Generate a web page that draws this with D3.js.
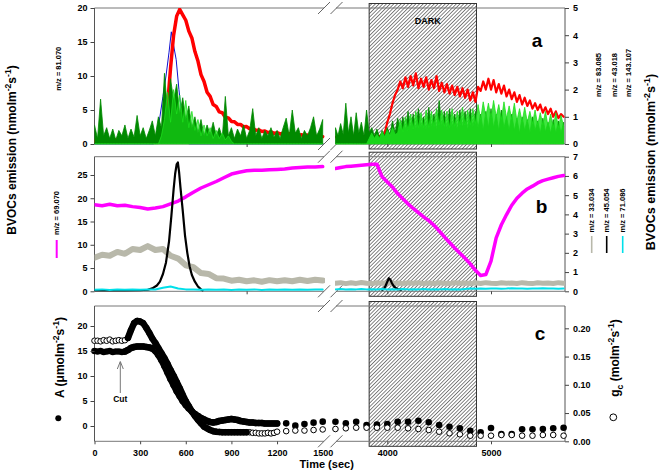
<!DOCTYPE html>
<html>
<head>
<meta charset="utf-8">
<script src="https://cdn.jsdelivr.net/npm/d3@7/dist/d3.min.js"></script>
<style>
html,body{margin:0;padding:0;background:#fff;}
svg{display:block;font-family:Arial,"Liberation Sans",Helvetica,sans-serif;}
</style>
</head>
<body>
<svg id="chart" width="661" height="473"></svg>
<script>
// ---------------- time grids (sampling instants, seconds) ----------------
const tA_left  = d3.range(0, 1501, 20);
const tA_right = d3.range(3500, 5701, 25);
const tB_left  = d3.range(0, 1501, 50);
const tB_right = d3.range(3500, 5701, 50);
const tC_left  = d3.range(0, 1201, 20).concat([1260, 1320, 1380, 1440, 1500]);
const tC_right = d3.range(3500, 5701, 100);
const darkPeriod = [3825, 4860];

// ---------------- tick labels ----------------
const xTicksLeft  = [0, 300, 600, 900, 1200, 1500];
const xTicksRight = [4000, 5000];
const xMinorLeft  = [1000];
const yTicksA_left  = [0, 5, 10, 15, 20];
const yTicksA_right = [0, 1, 2, 3, 4, 5];
const yTicksB_left  = [0, 5, 10, 15, 20, 25];
const yTicksB_right = [0, 1, 2, 3, 4, 5, 6, 7];
const yTicksC_left  = [0, 5, 10, 15, 20];
const yTicksC_right = [0, 0.05, 0.10, 0.15, 0.20];

// ---------------- panel a ----------------
// m/z 81.070 (blue, left axis)
const blueT = [0, 390, 410, 430, 450, 470, 490, 505, 520, 537, 555, 570, 585, 603, 620, 1500];
const blueV = [0, 0, 1.5, 4, 7, 10, 13.5, 16.5, 14.5, 12.4, 8, 5, 2.5, 0.6, 0, 0];
// m/z 83.085 (red, right axis)
const redLeft = [0.1,0.15,0.1,0.15,0.1,0.15,0.1,0.15,0.1,0.15,0.1,0.15,0.1,0.15,0.1,0.15,0.1,0.15,0.1,0.15,0.1,0.15,0.1,
  0.3,1.4,2.8,4.0,4.7,4.95,4.75,4.55,4.15,3.9,3.4,3.05,2.55,2.3,1.9,1.75,1.45,1.38,1.18,1.15,0.98,0.96,0.83,0.82,0.72,0.72,
  0.63,0.64,0.56,0.58,0.5,0.52,0.46,0.48,0.42,0.45,0.39,0.42,0.37,0.4,0.35,0.38,0.33,0.36,0.31,0.34,0.3,0.33,0.28,0.31,0.27,0.3,0.27];
const redRight = [0.25,0.3,0.2,0.3,0.25,0.3,0.2,0.3,0.25,0.3,0.2,0.3,0.25,
  0.3,0.2,0.3,0.25,0.3,0.3,0.4,0.8,1.1,1.5,1.8,
  2.0,2.3,2.05,2.45,2.1,2.5,2.15,2.6,2.05,2.4,2.1,2.45,2.0,2.35,2.05,2.5,1.95,2.25,1.9,2.2,1.85,2.15,1.8,2.1,1.75,2.05,1.7,2.0,1.6,1.9,1.55,
  2.1,1.95,2.3,2.0,2.4,2.0,2.35,1.9,2.2,1.85,2.15,1.75,2.0,1.65,1.9,1.55,1.8,1.45,1.7,1.4,1.6,1.3,1.5,1.25,1.45,1.15,1.35,1.1,1.3,1.0,1.2,0.95,1.1,1.0];
// m/z 43.018 (dark green, right axis)
const dgreenLeft = [0.7,0.2,1.65,0.3,0.6,0.2,0.55,0.15,0.5,0.3,0.7,0.2,0.55,0.25,1.05,0.3,0.6,0.2,0.5,0.85,0.3,1.0,0.6,
  2.6,1.2,2.4,1.6,2.2,1.1,1.7,0.9,1.4,0.6,1.0,0.4,0.9,0.3,0.7,0.35,0.8,0.3,0.6,0.25,1.75,0.3,0.6,0.2,0.55,0.3,0.7,0.2,
  0.5,1.3,0.3,0.6,0.2,0.5,0.3,0.6,0.25,0.5,0.2,0.6,0.95,0.3,1.25,0.4,0.6,0.2,0.5,0.3,0.6,1.0,0.3,0.55,0.9];
const dgreenRight = [0.6,0.3,0.75,0.35,1.5,0.4,1.0,0.3,1.15,0.4,0.8,0.3,1.25,
  0.4,0.6,0.3,0.55,0.25,0.5,0.3,0.6,0.35,0.85,0.4,
  0.95,0.5,1.0,0.5,1.2,0.6,1.1,0.5,1.3,0.6,1.0,0.5,1.35,0.6,1.1,0.5,1.6,0.6,1.2,0.5,1.3,0.6,1.1,0.5,1.25,0.6,1.2,0.5,1.3,0.6,1.2,
  0.6,1.1,0.5,1.2,0.6,1.3,0.6,1.1,0.5,1.25,0.6,1.0,0.5,1.1,0.5,0.95,0.4,1.0,0.5,0.9,0.4,1.0,0.5,0.85,0.4,0.95,0.45,0.8,0.4,0.9,0.4,0.85,0.4,0.8];
// m/z 143.107 (light green, right axis)
const lgreenLeft = [0,0,0,0,0,0,0,0,0,0,0,0,0,0,0,0,0,0,0,0,0,0,
  0.3,0.9,1.9,0.8,2.0,1.1,1.8,0.8,1.6,0.6,1.2,0.5,0.9,0.3,0.7,0.3,0.6,0.2,0.5,0.2,0.4,0.15,0.3,0.1,
  0,0,0,0,0,0,0,0,0,0,0,0,0,0,0,0,0,0,0,0,0,0,0,0,0,0,0,0,0,0];
const lgreenRight = [0,0,0,0,0,0,0,0,0,0,0,0,0,
  0.2,0.4,0.2,0.35,0.2,0.45,0.25,0.5,0.3,0.6,0.35,
  0.4,0.9,0.45,1.0,0.5,1.1,0.55,1.2,0.6,1.15,0.6,1.25,0.6,1.2,0.65,1.3,0.7,1.25,0.65,1.2,0.6,1.3,0.65,1.2,0.7,1.35,0.7,1.25,0.7,1.3,0.75,
  1.45,0.9,1.55,1.0,1.5,0.95,1.6,1.0,1.45,0.9,1.55,0.95,1.4,0.9,1.5,0.85,1.3,0.8,1.35,0.8,1.2,0.75,1.25,0.7,1.15,0.7,1.2,0.65,1.1,0.6,1.15,0.6,1.05,0.65];

// ---------------- panel b ----------------
// m/z 69.070 (magenta, left axis)
const magLeft = [18.6,18.4,18.7,18.4,18.5, 18.2,18.0,17.7,17.9,18.2, 18.8,19.4,20.3,21.3,22.2, 22.9,23.6,24.4,25.2,25.6,
  25.9,26.0,26.0,26.1,26.2, 26.3,26.5,26.6,26.7,26.7, 26.8];
const magRight = [26.4,26.6,26.8,26.9,27.0,27.1,27.2,27.3,27.3,24.6,23.5,22.4,21.0,19.9,18.8,17.8,16.9,16.0,15.2,14.2,
  13.0,11.7,10.5,9.3,8.2,7.1,5.9,4.5,3.4,3.6,6.5,11.5,14.3,16.5,18.5,20.0,21.1,22.0,22.6,23.3,23.8,24.1,24.4,24.7,24.9];
// m/z 33.034 (grey, right axis)
const greyLeft = [1.75,1.9,1.85,2.05,1.95, 2.2,2.15,2.35,2.15,2.2, 1.85,1.7,1.35,1.25,0.95, 0.9,0.68,0.66,0.55,0.6,
  0.52,0.57,0.5,0.58,0.52, 0.57,0.52,0.6,0.54,0.6, 0.56];
const greyRight = [0.42,0.45,0.40,0.44,0.41, 0.46,0.42,0.40,0.44,0.42, 0.45,0.41,0.43,0.40,0.44, 0.42,0.45,0.40,0.43,0.41,
  0.44,0.42,0.40,0.45,0.42, 0.43,0.40,0.44,0.41,0.45, 0.42,0.40,0.44,0.42,0.43, 0.41,0.45,0.42,0.40,0.44, 0.42,0.43,0.41,0.45,0.42];
// m/z 45.054 (black, right axis)
const blackLeftT = [0,100,200,300,350,380,410,430,450,470,490,505,520,530,540,548,556,565,580,595,610,625,640,660,680,700,710];
const blackLeftV = [0.05,0.06,0.05,0.06,0.08,0.15,0.3,0.5,0.9,1.5,2.6,3.9,5.3,6.1,6.6,6.7,6.2,5.4,4.2,2.9,2.0,1.3,0.85,0.5,0.25,0.1,0.05];
const blackRightT = [3950,3970,3985,4000,4015,4030,4045,4060,4080,4100,4130];
const blackRightV = [0.08,0.15,0.3,0.5,0.68,0.6,0.42,0.28,0.18,0.12,0.08];
// m/z 71.086 (cyan, right axis)
const cyanLeft = [0.08,0.1,0.07,0.09,0.08, 0.1,0.08,0.1,0.09,0.18, 0.25,0.15,0.1,0.09,0.08, 0.1,0.08,0.09,0.07,0.09,
  0.08,0.1,0.07,0.09,0.08, 0.1,0.08,0.09,0.08,0.1, 0.09];
const cyanRight = [0.1,0.12,0.09,0.11,0.1, 0.12,0.1,0.11,0.09,0.12, 0.1,0.11,0.09,0.12,0.1, 0.11,0.1,0.12,0.09,0.11,
  0.1,0.12,0.1,0.11,0.09, 0.12,0.14,0.13,0.15,0.13, 0.14,0.15,0.13,0.14,0.16, 0.14,0.15,0.13,0.15,0.14, 0.16,0.14,0.15,0.13,0.15];

// ---------------- panel c ----------------
// A, net assimilation (filled, left axis)
const aLeft = [15.0,14.9,15.0,14.8,14.9,15.0,14.8,14.9,14.9,14.8,14.9,
  15.2,15.6,15.8,15.9,15.9,15.9,15.8,15.7,15.5,15.0,
  14.2,13.2,12.0,10.7,9.4,8.2,7.0,6.0,5.0,4.2,
  3.5,2.9,2.4,2.0,1.6,1.3,1.0,0.8,0.7,0.8,
  1.0,1.1,1.2,1.3,1.4,1.3,1.2,1.0,0.9,0.8,
  0.7,0.7,0.6,0.6,0.6,0.5,0.5,0.5,0.5,0.5,
  0.53,0.07,0.4,0.67,0.87];
const aRight = [0.86,0.54,0.86,0.2,0.3,0.4,0.86,0.86,1.06,0.74,0.2,-0.14,-0.46,-0.94,-1.26,-0.4,-1.6,-1.6,-0.66,-0.66,-0.6,-0.46,-0.34];
// gc, stomatal conductance (open, right axis)
const gcLeft = [0.178,0.178,0.177,0.179,0.178,0.180,0.177,0.178,0.179,0.178,0.179,
  0.183,0.197,0.209,0.213,0.212,0.209,0.201,0.192,0.182,0.174,
  0.165,0.156,0.147,0.137,0.126,0.116,0.105,0.094,0.082,0.071,
  0.062,0.053,0.045,0.038,0.032,0.026,0.023,0.020,0.018,0.017,
  0.0165,0.016,0.016,0.016,0.016,0.016,0.016,0.016,0.016,0.016,
  0.016,0.015,0.015,0.014,0.014,0.014,0.015,0.014,0.015,0.017,
  0.018,0.019,0.019,0.020,0.021];
const gcRight = [0.0218,0.0230,0.0241,0.0241,0.0241,0.0241,0.0241,0.0230,0.0218,0.0200,0.0170,0.0142,0.0124,0.0099,0.0099,
  0.0099,0.0112,0.0112,0.0099,0.0099,0.0112,0.0112,0.0099];

// ================= drawing =================
const svg = d3.select('#chart');
const defs = svg.append('defs');
const HS = 2.6;
const pat = defs.append('pattern').attr('id', 'hatch').attr('patternUnits', 'userSpaceOnUse')
  .attr('width', HS).attr('height', HS).attr('patternTransform', 'rotate(45)');
pat.append('rect').attr('width', HS).attr('height', HS).attr('fill', '#fff');
pat.append('line').attr('x1', 0).attr('y1', 0).attr('x2', 0).attr('y2', HS).attr('stroke', '#222').attr('stroke-width', 1.1);

const xL = d3.scaleLinear().domain([0, 1500]).range([94.5, 322.7]);
const xR = d3.scaleLinear().domain([4000, 5000]).range([387.3, 491]);
const AX_L = 94.5, AX_R = 565, SEG_L_END = 324, SEG_R_START = 336;

const P = [{top: 8, bottom: 144}, {top: 156.7, bottom: 291.3}, {top: 306, bottom: 441.3}];
const yAL = d3.scaleLinear([0, 20], [P[0].bottom, P[0].top]);
const yAR = d3.scaleLinear([0, 5], [P[0].bottom, P[0].top]);
const yBL = d3.scaleLinear([0, 28.93], [P[1].bottom, P[1].top]);
const yBR = d3.scaleLinear([0, 7], [P[1].bottom, P[1].top]);
const yCL = d3.scaleLinear([-3.06, 24], [P[2].bottom, P[2].top]);
const yCR = d3.scaleLinear([0, 0.2395], [P[2].bottom, P[2].top]);

// clip paths
P.forEach((p, i) => {
  defs.append('clipPath').attr('id', 'cl' + i).append('rect')
    .attr('x', AX_L).attr('y', p.top).attr('width', 325 - AX_L).attr('height', p.bottom - p.top + 0.5);
  defs.append('clipPath').attr('id', 'cr' + i).append('rect')
    .attr('x', 335).attr('y', p.top).attr('width', AX_R - 335).attr('height', p.bottom - p.top + 0.5);
});

// dark boxes (under the data)
P.forEach(p => {
  svg.append('rect').attr('x', xR(darkPeriod[0])).attr('y', p.top - 4.5)
    .attr('width', xR(darkPeriod[1]) - xR(darkPeriod[0])).attr('height', p.bottom - p.top + 9.5)
    .attr('fill', 'url(#hatch)').attr('stroke', '#333').attr('stroke-width', 1);
});

const FRAME = '#777';
function hline(x1, x2, y) {
  svg.append('line').attr('x1', x1).attr('x2', x2).attr('y1', y).attr('y2', y).attr('stroke', FRAME).attr('stroke-width', 1);
}
P.forEach(p => {
  hline(AX_L, SEG_L_END, p.top); hline(SEG_R_START, AX_R, p.top);
  hline(AX_L, SEG_L_END, p.bottom); hline(SEG_R_START, AX_R, p.bottom);
  svg.append('line').attr('x1', AX_L).attr('x2', AX_L).attr('y1', p.top).attr('y2', p.bottom).attr('stroke', '#555');
  svg.append('line').attr('x1', AX_R).attr('x2', AX_R).attr('y1', p.top).attr('y2', p.bottom).attr('stroke', '#555');
  // break marks
  [324, 336.5].forEach(cx => [p.top, p.bottom].forEach(cy => {
    svg.append('line').attr('x1', cx - 6).attr('y1', cy + 6).attr('x2', cx + 6).attr('y2', cy - 6)
      .attr('stroke', '#666').attr('stroke-width', 1);
  }));
});

function line(xs, ts, vs, y, color, w, clip) {
  svg.append('path').datum(d3.zip(ts, vs)).attr('clip-path', `url(#${clip})`)
    .attr('d', d3.line().x(d => xs(d[0])).y(d => y(d[1])))
    .attr('fill', 'none').attr('stroke', color).attr('stroke-width', w)
    .attr('stroke-linejoin', 'round').attr('stroke-linecap', 'round');
}
function spikes(xs, ts, vs, y, color, clip, fillOp) {
  svg.append('path').datum(d3.zip(ts, vs)).attr('clip-path', `url(#${clip})`)
    .attr('d', d3.area().x(d => xs(d[0])).y0(y(0)).y1(d => y(d[1])))
    .attr('fill', color).attr('fill-opacity', fillOp).attr('stroke', color).attr('stroke-width', 0.8);
}

// panel a
const RED = '#ff0000', BLUE = '#1010d0', DG = '#008a00', LG = '#1ee01e';
line(xL, blueT, blueV, yAL, BLUE, 1, 'cl0');
line(xL, tA_left, redLeft, yAR, RED, 3.5, 'cl0');
line(xR, tA_right, redRight, yAR, RED, 2.2, 'cr0');
spikes(xL, tA_left, dgreenLeft, yAR, DG, 'cl0', 1);
spikes(xR, tA_right, dgreenRight, yAR, DG, 'cr0', 1);
spikes(xL, tA_left, lgreenLeft, yAR, LG, 'cl0', 0.55);
spikes(xR, tA_right, lgreenRight, yAR, LG, 'cr0', 0.85);

// panel b
const MAG = '#ff00ff', GREY = '#b8b8aa', CYAN = '#00e0ea';
line(xL, tB_left, greyLeft, yBR, GREY, 6, 'cl1');
line(xR, tB_right, greyRight, yBR, GREY, 5, 'cr1');
line(xL, tB_left, magLeft, yBL, MAG, 3.5, 'cl1');
line(xR, tB_right, magRight, yBL, MAG, 3.5, 'cr1');
line(xL, blackLeftT, blackLeftV, yBR, '#000', 2.2, 'cl1');
line(xR, blackRightT, blackRightV, yBR, '#000', 2.2, 'cr1');
line(xL, tB_left, cyanLeft, yBR, CYAN, 2, 'cl1');
line(xR, tB_right, cyanRight, yBR, CYAN, 2, 'cr1');

// panel c
const R = 3.3;
const denseA = [200, 1200], denseG = [220, 1000];
const aL = d3.zip(tC_left, aLeft), gL = d3.zip(tC_left, gcLeft);
svg.append('path').datum(aL.filter(d => d[0] >= denseA[0] && d[0] <= denseA[1]))
  .attr('d', d3.line().x(d => xL(d[0])).y(d => yCL(d[1])))
  .attr('fill', 'none').attr('stroke', '#000').attr('stroke-width', 2 * R).attr('stroke-linejoin', 'round').attr('stroke-linecap', 'round');
svg.append('g').selectAll('circle').data(aL).join('circle')
  .attr('cx', d => xL(d[0])).attr('cy', d => yCL(d[1])).attr('r', R).attr('fill', '#000');
svg.append('g').selectAll('circle').data(d3.zip(tC_right, aRight)).join('circle')
  .attr('cx', d => xR(d[0])).attr('cy', d => yCL(d[1])).attr('r', R).attr('fill', '#000');
svg.append('g').selectAll('circle').data(gL).join('circle')
  .attr('cx', d => xL(d[0])).attr('cy', d => yCR(d[1])).attr('r', R - 0.5).attr('fill', '#fff').attr('stroke', '#000').attr('stroke-width', 1);
svg.append('g').selectAll('circle').data(d3.zip(tC_right, gcRight)).join('circle')
  .attr('cx', d => xR(d[0])).attr('cy', d => yCR(d[1])).attr('r', R - 0.5).attr('fill', '#fff').attr('stroke', '#000').attr('stroke-width', 1);
svg.append('path').datum(gL.filter(d => d[0] >= denseG[0] && d[0] <= denseG[1]))
  .attr('d', d3.line().x(d => xL(d[0])).y(d => yCR(d[1])))
  .attr('fill', 'none').attr('stroke', '#000').attr('stroke-width', 2 * R).attr('stroke-linejoin', 'round').attr('stroke-linecap', 'round');

// axes
function style(g, fs) {
  g.attr('font-family', null).attr('font-size', null);
  g.select('.domain').remove();
  g.selectAll('line').attr('stroke', '#444');
  g.selectAll('text').attr('font-size', fs || 9).attr('font-weight', 'bold').attr('fill', '#000');
  return g;
}
const fmtInt = d3.format('d');
function leftAxis(y, ticks, fmt) {
  style(svg.append('g').attr('transform', `translate(${AX_L},0)`)
    .call(d3.axisLeft(y).tickValues(ticks).tickSize(4).tickPadding(3).tickFormat(fmt || fmtInt)));
}
function rightAxis(y, ticks, fmt) {
  style(svg.append('g').attr('transform', `translate(${AX_R},0)`)
    .call(d3.axisRight(y).tickValues(ticks).tickSize(4).tickPadding(4).tickFormat(fmt || fmtInt)));
}
leftAxis(yAL, yTicksA_left); rightAxis(yAR, yTicksA_right);
leftAxis(yBL, yTicksB_left); rightAxis(yBR, yTicksB_right);
leftAxis(yCL, yTicksC_left); rightAxis(yCR, yTicksC_right, d3.format('.2f'));

[0, 1].forEach(i => {
  style(svg.append('g').attr('transform', `translate(0,${P[i].bottom})`)
    .call(d3.axisBottom(xL).tickValues(xMinorLeft).tickSize(3).tickFormat('')));
  style(svg.append('g').attr('transform', `translate(0,${P[i].bottom})`)
    .call(d3.axisBottom(xR).tickValues(xTicksRight).tickSize(3).tickFormat('')));
});
const gxl = style(svg.append('g').attr('transform', `translate(0,${P[2].bottom})`)
  .call(d3.axisBottom(xL).tickValues(xTicksLeft).tickSize(3).tickPadding(5).tickFormat(fmtInt)));
gxl.selectAll('.tick').filter(d => d === 1500).select('line').remove();
style(svg.append('g').attr('transform', `translate(0,${P[2].bottom})`)
  .call(d3.axisBottom(xR).tickValues(xTicksRight).tickSize(3).tickPadding(5).tickFormat(fmtInt)));

// ---------------- texts ----------------
function vtext(x, y, parts, size, anchor) {
  const t = svg.append('text').attr('transform', `translate(${x + size * 0.35},${y}) rotate(-90)`)
    .attr('text-anchor', anchor).attr('font-size', size).attr('font-weight', 'bold').attr('fill', '#000');
  let shift = 0;
  parts.forEach(p => {
    const s = t.append('tspan').text(p.t);
    let target = 0;
    if (p.s === 'sup') { s.attr('font-size', size * 0.72); target = -size * 0.42; }
    else if (p.s === 'sub') { s.attr('font-size', size * 0.72); target = size * 0.3; }
    s.attr('dy', target - shift); shift = target;
  });
  return t;
}
function htext(x, y, str, size, anchor) {
  return svg.append('text').attr('x', x).attr('y', y).attr('text-anchor', anchor || 'middle')
    .attr('font-size', size).attr('font-weight', 'bold').attr('fill', '#000').text(str);
}
const bvoc = [{t: 'BVOCs emission (nmolm'}, {t: '-2', s: 'sup'}, {t: 's'}, {t: '-1', s: 'sup'}, {t: ')'}];
vtext(12, 150, bvoc, 12, 'middle');
vtext(651, 162, bvoc, 12.5, 'middle');

vtext(58.3, 90.7, [{t: 'm/z = 81.070'}], 7.5, 'start');
vtext(598.3, 97, [{t: 'm/z = 83.085'}], 7.5, 'start');
vtext(614, 97, [{t: 'm/z = 43.018'}], 7.5, 'start');
vtext(628.3, 97, [{t: 'm/z = 143.107'}], 7.5, 'start');

vtext(56.7, 235, [{t: 'm/z = 69.070'}], 7.5, 'start');
svg.append('line').attr('x1', 56.7).attr('x2', 56.7).attr('y1', 240).attr('y2', 258).attr('stroke', MAG).attr('stroke-width', 2);
const rightB = [{x: 591.7, t: 'm/z = 33.034', c: GREY}, {x: 606.7, t: 'm/z = 45.054', c: '#000'}, {x: 622.7, t: 'm/z = 71.086', c: CYAN}];
rightB.forEach(d => {
  vtext(d.x, 232.5, [{t: d.t}], 7.5, 'start');
  svg.append('line').attr('x1', d.x).attr('x2', d.x).attr('y1', 236).attr('y2', 253).attr('stroke', d.c).attr('stroke-width', 1.6);
});

vtext(60, 357.5, [{t: 'A (\u03bcmolm'}, {t: '-2', s: 'sup'}, {t: 's'}, {t: '-1', s: 'sup'}, {t: ')'}], 12, 'middle');
svg.append('circle').attr('cx', 58.3).attr('cy', 418.3).attr('r', 3).attr('fill', '#000');
vtext(615, 358, [{t: 'g'}, {t: 'c', s: 'sub'}, {t: ' (molm'}, {t: '-2', s: 'sup'}, {t: 's'}, {t: '-1', s: 'sup'}, {t: ')'}], 12, 'middle');
svg.append('circle').attr('cx', 613.3).attr('cy', 417.3).attr('r', 3.4).attr('fill', '#fff').attr('stroke', '#000').attr('stroke-width', 1);

htext(537, 46.5, 'a', 19);
htext(541.5, 213, 'b', 19);
htext(540, 340, 'c', 19);
htext(427.7, 24, 'DARK', 9);
htext(326.7, 467.5, 'Time (sec)', 11);

// Cut arrow
htext(120.3, 402, 'Cut', 8.5);
svg.append('line').attr('x1', 120.3).attr('x2', 120.3).attr('y1', 393).attr('y2', 362).attr('stroke', '#777').attr('stroke-width', 1);
svg.append('path').attr('d', 'M117.3,369 L120.3,361.5 L123.3,369').attr('fill', 'none').attr('stroke', '#777').attr('stroke-width', 1);
</script>
</body>
</html>
